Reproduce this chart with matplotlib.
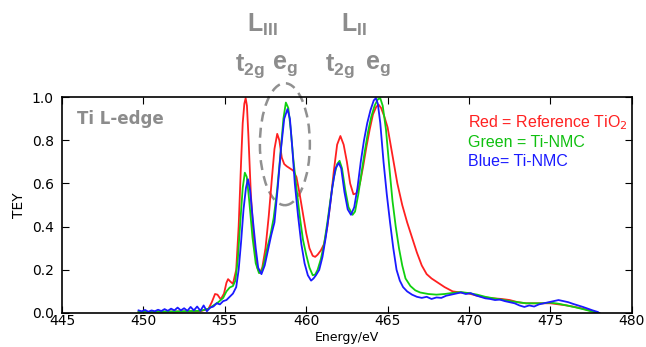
import matplotlib
matplotlib.use('Agg')
import matplotlib.pyplot as plt
from matplotlib.patches import Ellipse

# Red = reference TiO2
red_e = [449.7, 450.5, 451.5, 452.5, 453.5, 454.0, 454.2, 454.4, 454.55, 454.75,
         454.95, 455.1, 455.2, 455.35, 455.5, 455.7, 455.85, 456.0, 456.1, 456.2,
         456.28, 456.36, 456.45, 456.6, 456.8, 457.0, 457.15, 457.3, 457.5, 457.7,
         457.9, 458.05, 458.22, 458.35, 458.5, 458.65, 458.8, 459.0, 459.2, 459.4,
         459.6, 459.8, 460.0, 460.2, 460.4, 460.55, 460.7, 460.9, 461.1, 461.3,
         461.5, 461.7, 461.9, 462.1, 462.3, 462.5, 462.7, 462.9, 463.1, 463.3,
         463.5, 463.7, 463.9, 464.1, 464.3, 464.45, 464.6, 464.8, 465.0, 465.3,
         465.6, 465.9, 466.2, 466.5, 466.8, 467.1, 467.4, 467.7, 468.0, 468.5,
         469.0, 469.5, 470.0, 470.5, 471.0, 471.5, 472.0, 472.5, 473.0, 473.5,
         474.0, 474.5, 475.0, 475.5, 476.0, 476.5, 477.0, 477.5, 478.0]
red_tey = [0.005, 0.005, 0.006, 0.007, 0.008, 0.02, 0.05, 0.088, 0.085, 0.063,
           0.09, 0.14, 0.157, 0.145, 0.135, 0.2, 0.4, 0.7, 0.88, 0.97,
           0.995, 0.96, 0.82, 0.55, 0.32, 0.21, 0.185, 0.21, 0.3, 0.45,
           0.63, 0.76, 0.83, 0.8, 0.72, 0.69, 0.68, 0.67, 0.66, 0.63,
           0.55, 0.46, 0.37, 0.3, 0.265, 0.26, 0.27, 0.29, 0.32, 0.4,
           0.52, 0.66, 0.78, 0.82, 0.78, 0.7, 0.6, 0.55, 0.555, 0.6,
           0.68, 0.77, 0.85, 0.92, 0.955, 0.965, 0.95, 0.91, 0.86, 0.73,
           0.6, 0.5, 0.42, 0.35, 0.28, 0.22, 0.18, 0.16, 0.145, 0.12,
           0.1, 0.095, 0.09, 0.08, 0.072, 0.068, 0.065, 0.06, 0.05, 0.045,
           0.045, 0.045, 0.045, 0.04, 0.035, 0.028, 0.02, 0.01, 0.0]

# Green = Ti-NMC
green_e = [449.7, 450.5, 451.5, 452.5, 453.5, 454.0, 454.3, 454.6, 454.9, 455.1,
           455.3, 455.5, 455.65, 455.8, 455.95, 456.1, 456.23, 456.35, 456.5, 456.7,
           456.9, 457.1, 457.25, 457.4, 457.6, 457.8, 458.0, 458.2, 458.4, 458.6,
           458.75, 458.9, 459.05, 459.2, 459.4, 459.6, 459.8, 460.0, 460.2, 460.4,
           460.55, 460.7, 460.9, 461.1, 461.3, 461.5, 461.7, 461.9, 462.05, 462.2,
           462.4, 462.6, 462.85, 463.0, 463.2, 463.4, 463.6, 463.8, 464.0, 464.2,
           464.4, 464.55, 464.7, 464.9, 465.1, 465.3, 465.5, 465.7, 465.9, 466.1,
           466.4, 466.7, 467.0, 467.5, 468.0, 468.5, 469.0, 469.5, 470.0, 470.5,
           471.0, 471.5, 472.0, 472.5, 473.0, 473.5, 474.0, 474.5, 475.0, 475.5,
           476.0, 476.5, 477.0, 477.5, 478.0]
green_tey = [0.005, 0.005, 0.007, 0.008, 0.01, 0.02, 0.035, 0.05, 0.07, 0.1,
             0.118, 0.125, 0.15, 0.25, 0.42, 0.58, 0.65, 0.63, 0.52, 0.35,
             0.23, 0.185, 0.19, 0.23, 0.3, 0.36, 0.44, 0.56, 0.72, 0.9,
             0.975, 0.95, 0.85, 0.72, 0.58, 0.45, 0.34, 0.27, 0.21, 0.175,
             0.178, 0.2, 0.25, 0.32, 0.42, 0.53, 0.63, 0.69, 0.705, 0.67,
             0.57, 0.49, 0.455, 0.47, 0.55, 0.65, 0.75, 0.84, 0.91, 0.96,
             0.99, 0.995, 0.96, 0.85, 0.68, 0.52, 0.4, 0.3, 0.22, 0.16,
             0.125, 0.105, 0.095, 0.088, 0.085, 0.088, 0.093, 0.097, 0.092, 0.085,
             0.075, 0.068, 0.062, 0.055, 0.05, 0.045, 0.045, 0.045, 0.048, 0.043,
             0.035, 0.027, 0.018, 0.008, 0.0]

# Blue = Ti-NMC
blue_e = [449.7, 449.9, 450.1, 450.3, 450.5, 450.7, 450.9, 451.1, 451.3, 451.5,
          451.7, 451.9, 452.1, 452.3, 452.5, 452.7, 452.9, 453.1, 453.3, 453.5,
          453.7, 453.9, 454.1, 454.3, 454.5, 454.7, 454.9, 455.1, 455.3, 455.5,
          455.7, 455.85, 456.0, 456.15, 456.3, 456.42, 456.55, 456.7, 456.9, 457.05,
          457.25, 457.45, 457.65, 457.85, 458.05, 458.25, 458.45, 458.65, 458.85, 459.0,
          459.15, 459.3, 459.5, 459.7, 459.9, 460.1, 460.3, 460.45, 460.6, 460.8,
          461.0, 461.2, 461.4, 461.6, 461.8, 462.0, 462.15, 462.35, 462.55, 462.75,
          462.95, 463.15, 463.35, 463.55, 463.75, 463.95, 464.15, 464.28, 464.4, 464.55,
          464.75, 464.95, 465.15, 465.35, 465.55, 465.75, 465.95, 466.2, 466.5, 466.8,
          467.1, 467.4, 467.7, 468.0, 468.3, 468.6, 468.9, 469.2, 469.5, 469.8,
          470.1, 470.4, 470.7, 471.0, 471.3, 471.6, 471.9, 472.2, 472.5, 472.8,
          473.1, 473.4, 473.7, 474.0, 474.3, 474.6, 474.9, 475.2, 475.5, 475.8,
          476.1, 476.4, 476.7, 477.0, 477.3, 477.6, 477.9, 478.0]
blue_tey = [0.012, 0.008, 0.014, 0.006, 0.012, 0.008, 0.015, 0.009, 0.018, 0.01,
            0.02, 0.012, 0.025, 0.012, 0.022, 0.01, 0.028, 0.012, 0.03, 0.01,
            0.035, 0.008, 0.025, 0.03, 0.045, 0.04, 0.055, 0.06, 0.075, 0.09,
            0.12, 0.2, 0.33, 0.48, 0.58, 0.62, 0.57, 0.45, 0.3, 0.21,
            0.18, 0.22, 0.29, 0.36, 0.42, 0.58, 0.76, 0.9, 0.945, 0.9,
            0.76, 0.6, 0.45, 0.32, 0.23, 0.175, 0.15, 0.16, 0.175, 0.2,
            0.26, 0.35, 0.46, 0.58, 0.67, 0.695, 0.67, 0.56, 0.48, 0.455,
            0.49, 0.58, 0.7, 0.8, 0.88, 0.94, 0.985, 0.995, 0.97, 0.88,
            0.7, 0.55, 0.42, 0.3, 0.2, 0.15, 0.12, 0.1, 0.085, 0.075,
            0.07, 0.075, 0.065, 0.072, 0.07, 0.08, 0.085, 0.09, 0.095, 0.088,
            0.092, 0.082, 0.075, 0.068, 0.065, 0.06, 0.062, 0.055, 0.05, 0.045,
            0.035, 0.028, 0.035, 0.03, 0.04, 0.045, 0.05, 0.055, 0.06, 0.055,
            0.05, 0.042, 0.035, 0.028, 0.02, 0.012, 0.005, 0.0]

x_ticks = [445, 450, 455, 460, 465, 470, 475, 480]
y_ticks = [0.0, 0.2, 0.4, 0.6, 0.8, 1.0]
legend_lines = ['Red = Reference TiO$_2$', 'Green = Ti-NMC', 'Blue= Ti-NMC']

gray = '#8c8c8c'
fig = plt.figure(figsize=(6.46, 3.47), dpi=100)
ax = fig.add_axes([0.096, 0.098, 0.882, 0.622])

ax.plot(red_e, red_tey, color='#ff2020', lw=1.3)
ax.plot(green_e, green_tey, color='#10d010', lw=1.3)
ax.plot(blue_e, blue_tey, color='#1a1aff', lw=1.3)

ax.set_xlim(445, 480)
ax.set_ylim(0, 1.0)
ax.set_xticks(x_ticks)
ax.set_yticks(y_ticks)
ax.set_yticklabels(['%.1f' % v for v in y_ticks])
ax.tick_params(direction='in', top=True, right=True, length=5, labelsize=10)
ax.tick_params(axis='x', pad=1)
ax.tick_params(axis='y', pad=6)
for s in ax.spines.values():
    s.set_linewidth(1.2)
ax.set_xlabel('Energy/eV', fontsize=9, labelpad=2)
ax.set_ylabel('TEY', fontsize=10, labelpad=4)

ax.text(445.9, 0.9, 'Ti L-edge', color=gray, fontsize=12, fontweight='bold', va='center')

ell = Ellipse((458.69, 0.782), 3.07, 0.565, fill=False, ls=(0, (4, 2.5)), lw=1.8,
              edgecolor='#909090', clip_on=False)
ax.add_patch(ell)

cols = ['#ff2020', '#10c010', '#1a1aff']
for i, (t, c) in enumerate(zip(legend_lines, cols)):
    fig.text(468 / 646, 1 - (123 + 19.5 * i) / 347, t, color=c, fontsize=11.5,
             family='Liberation Sans', va='center')

lab = dict(color=gray, fontsize=18, fontweight='bold',
           family=['Liberation Sans Narrow', 'Liberation Sans'], ha='center', va='center')
fig.text(262 / 646, 1 - 25 / 347, r'$\mathregular{L_{III}}$', **lab)
fig.text(354 / 646, 1 - 25 / 347, r'$\mathregular{L_{II}}$', **lab)
fig.text(250 / 646, 1 - 66 / 347, r'$\mathregular{t_{2g}}$', **lab)
fig.text(285 / 646, 1 - 66 / 347, r'$\mathregular{e_{g}}$', **lab)
fig.text(340 / 646, 1 - 66 / 347, r'$\mathregular{t_{2g}}$', **lab)
fig.text(378 / 646, 1 - 66 / 347, r'$\mathregular{e_{g}}$', **lab)

fig.savefig('out.png', dpi=100)
